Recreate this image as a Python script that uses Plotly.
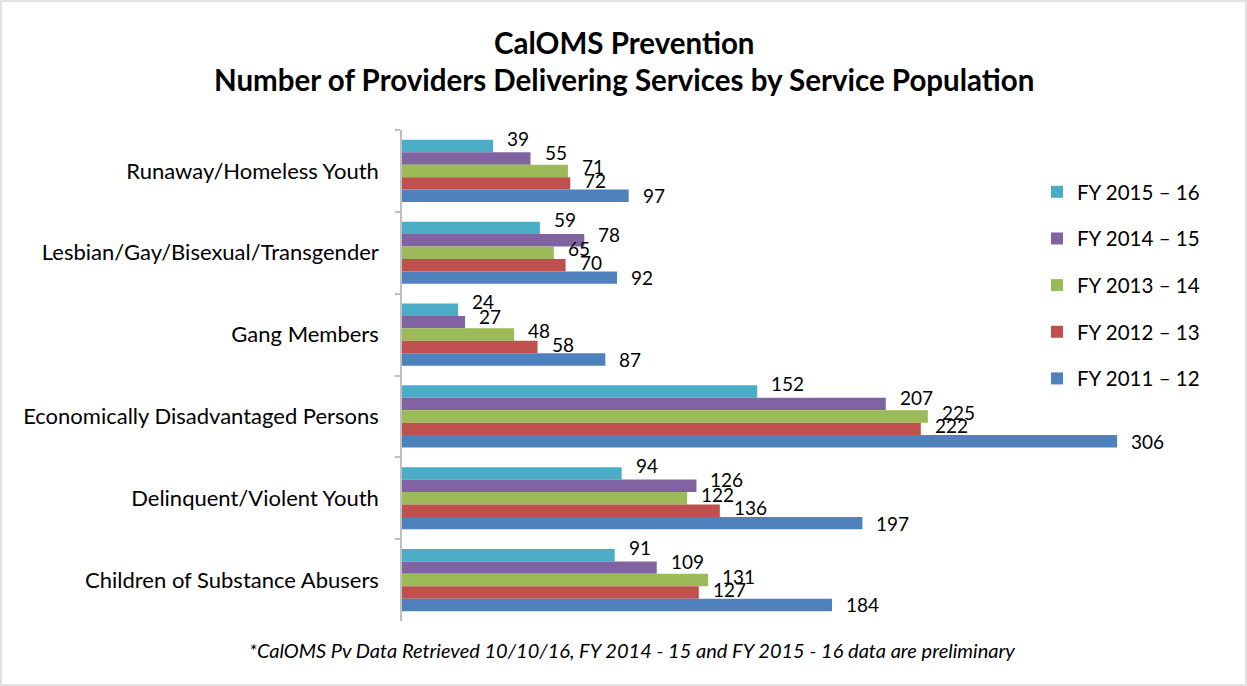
import plotly.graph_objects as go

categories = [
    "Runaway/Homeless Youth",
    "Lesbian/Gay/Bisexual/Transgender",
    "Gang Members",
    "Economically Disadvantaged Persons",
    "Delinquent/Violent Youth",
    "Children of Substance Abusers",
]
series_names = ["FY 2015 – 16", "FY 2014 – 15", "FY 2013 – 14", "FY 2012 – 13", "FY 2011 – 12"]
fy2015_16 = [39, 59, 24, 152, 94, 91]
fy2014_15 = [55, 78, 27, 207, 126, 109]
fy2013_14 = [71, 65, 48, 225, 122, 131]
fy2012_13 = [72, 70, 58, 222, 136, 127]
fy2011_12 = [97, 92, 87, 306, 197, 184]
series_values = [fy2015_16, fy2014_15, fy2013_14, fy2012_13, fy2011_12]
colors = ["#4BACC6", "#8064A2", "#9BBB59", "#C0504D", "#4F81BD"]
label_yshift = [8, 6, 4, 3, 0]

FONT = "Lato, Carlito, Calibri, sans-serif"
W, H = 1247, 686
ML, MR, MT, MB = 402, 57, 130, 65
PW, PH = W - ML - MR, H - MT - MB
BARGAP = 0.24

def px_x(px):
    return (px - ML) / PW

def px_y(py):
    return (H - MB - py) / PH

fig = go.Figure()
n = len(series_names)
group_w = 1 - BARGAP
bar_w = group_w / n
for k, (name, vals, col) in enumerate(zip(series_names, series_values, colors)):
    fig.add_trace(go.Bar(
        y=categories, x=vals, orientation="h", name=name,
        marker=dict(color=col, line=dict(width=0)),
        legendgroup=name, hoverinfo="x+name",
    ))
    off = -group_w / 2 + (k + 0.5) * bar_w
    for i, v in enumerate(vals):
        fig.add_annotation(
            x=v, y=i + off, xref="x", yref="y", text=str(v),
            showarrow=False, xanchor="left", yanchor="middle",
            xshift=12, yshift=label_yshift[k],
            font=dict(family=FONT, size=19, color="#000000"),
        )

fig.add_annotation(x=px_x(624), y=px_y(42), xref="paper", yref="paper",
                   text="<b>CalOMS Prevention</b>", showarrow=False,
                   xanchor="center", yanchor="middle",
                   font=dict(family=FONT, size=29.5, color="#000000"))
fig.add_annotation(x=px_x(624), y=px_y(80), xref="paper", yref="paper",
                   text="<b>Number of Providers Delivering Services by Service Population</b>",
                   showarrow=False, xanchor="center", yanchor="middle",
                   font=dict(family=FONT, size=29.5, color="#000000"))
fig.add_annotation(x=px_x(632), y=px_y(650), xref="paper", yref="paper",
                   text="<i>*CalOMS Pv Data Retrieved 10/10/16, FY 2014 - 15 and FY 2015 - 16 data are preliminary</i>",
                   showarrow=False, xanchor="center", yanchor="middle",
                   font=dict(family=FONT, size=20, color="#000000"))

fig.add_shape(type="rect", xref="paper", yref="paper",
              x0=px_x(1), x1=px_x(W - 1), y0=px_y(H - 1), y1=px_y(1),
              line=dict(color="#D9D9D9", width=1.5), layer="below")

fig.update_layout(
    width=W, height=H,
    margin=dict(l=ML, r=MR, t=MT, b=MB, pad=0),
    paper_bgcolor="#FFFFFF", plot_bgcolor="#FFFFFF",
    barmode="group", bargap=BARGAP, bargroupgap=0,
    font=dict(family=FONT, size=20, color="#000000"),
    showlegend=True,
    legend=dict(
        x=px_x(1037), y=px_y(172), xanchor="left", yanchor="top",
        traceorder="grouped", tracegroupgap=17,
        font=dict(family=FONT, size=20.5, color="#000000"),
        bgcolor="rgba(0,0,0,0)",
    ),
    xaxis=dict(range=[0, PW / 2.337], showticklabels=False, showgrid=False,
               zeroline=False, showline=False, ticks="", fixedrange=True),
    yaxis=dict(autorange="reversed", type="category", showline=True,
               linecolor="#BFBFBF", linewidth=1.5, ticks="outside",
               tickson="boundaries", ticklen=5, tickcolor="#BFBFBF",
               tickwidth=1.5, ticklabelstandoff=17, showgrid=False,
               tickfont=dict(family=FONT, size=22, color="#000000")),
)

fig.write_html("out.html")
